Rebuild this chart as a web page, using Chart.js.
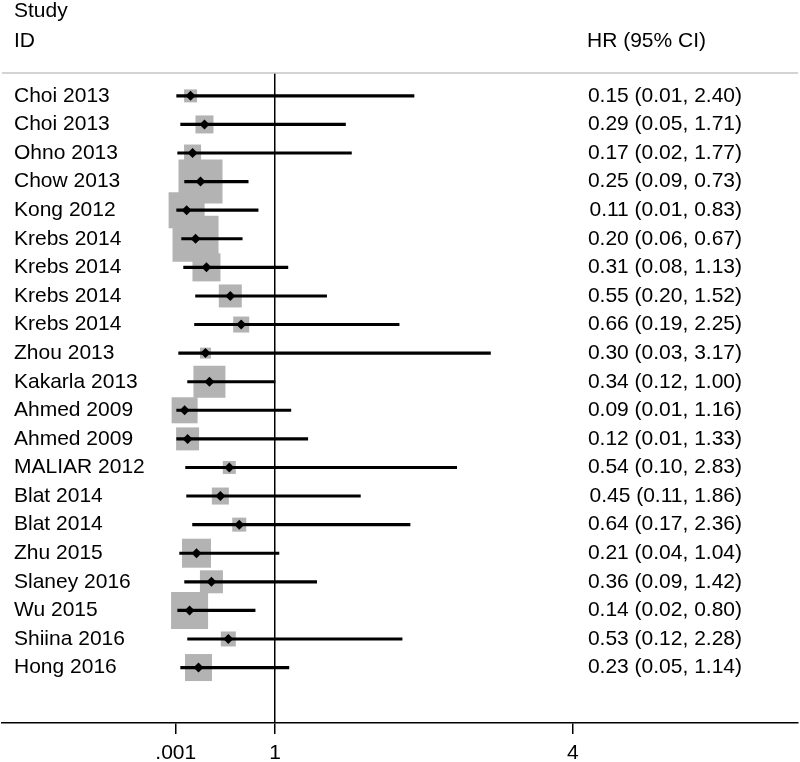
<!DOCTYPE html>
<html>
<head>
<meta charset="utf-8">
<script src="https://cdn.jsdelivr.net/npm/chart.js@4"></script>
<style>
  html, body { margin: 0; padding: 0; background: #fff; }
  #wrap { width: 800px; height: 762px; }
</style>
</head>
<body>
<div id="wrap"><canvas id="forest"></canvas></div>
<script>
// Forest plot: hazard ratios with 95% CI, box size = study weight.
const studies = ['Choi 2013', 'Choi 2013', 'Ohno 2013', 'Chow 2013', 'Kong 2012', 'Krebs 2014', 'Krebs 2014',
  'Krebs 2014', 'Krebs 2014', 'Zhou 2013', 'Kakarla 2013', 'Ahmed 2009', 'Ahmed 2009', 'MALIAR 2012',
  'Blat 2014', 'Blat 2014', 'Zhu 2015', 'Slaney 2016', 'Wu 2015', 'Shiina 2016', 'Hong 2016'];
const hr = [0.15, 0.29, 0.17, 0.25, 0.11, 0.20, 0.31, 0.55, 0.66, 0.30, 0.34, 0.09, 0.12, 0.54, 0.45, 0.64, 0.21, 0.36, 0.14, 0.53, 0.23];
const lower = [0.01, 0.05, 0.02, 0.09, 0.01, 0.06, 0.08, 0.20, 0.19, 0.03, 0.12, 0.01, 0.01, 0.10, 0.11, 0.17, 0.04, 0.09, 0.02, 0.12, 0.05];
const upper = [2.40, 1.71, 1.77, 0.73, 0.83, 0.67, 1.13, 1.52, 2.25, 3.17, 1.00, 1.16, 1.33, 2.83, 1.86, 2.36, 1.04, 1.42, 0.80, 2.28, 1.14];
// approximate % weights
const weights = [1.17, 2.25, 2.01, 13.45, 9.00, 14.70, 5.45, 3.67, 1.78, 0.84, 7.11, 4.70, 3.67, 1.17, 2.01, 1.36, 5.84, 3.67, 9.51, 1.56, 5.06];
const xTicks = [0.001, 1, 4];

const FONT = '"Liberation Sans", Arial, Helvetica, sans-serif';
const TEXT = '#000';
const BOX = '#b3b3b3';

const rows = studies.map((_, i) => i);
const ciLabels = hr.map((v, i) => `${v.toFixed(2)} (${lower[i].toFixed(2)}, ${upper[i].toFixed(2)})`);

const headerPlugin = {
  id: 'header',
  afterDraw(chart) {
    const { ctx, chartArea } = chart;
    ctx.save();
    ctx.strokeStyle = '#c4c4c4';
    ctx.lineWidth = 1.5;
    ctx.beginPath();
    ctx.moveTo(chartArea.left, chartArea.top);
    ctx.lineTo(chartArea.right, chartArea.top);
    ctx.stroke();
    ctx.fillStyle = TEXT;
    ctx.font = `21px ${FONT}`;
    ctx.textBaseline = 'alphabetic';
    ctx.fillText('Study', 14, 17);
    ctx.fillText('ID', 14, 47);
    ctx.fillText('HR (95% CI)', 587, 47);
    ctx.restore();
  },
};

// mirrored row-label axis; right side uses a negative padding to sit inside the plot
const rowScale = (labels, position, padding) => ({
  type: 'linear', position, reverse: true, offset: false, min: -0.8, max: 21.94,
  afterBuildTicks: s => { s.ticks = rows.map(v => ({ value: v })); },
  afterFit: s => { s.width = 0; },
  grid: { display: false, offset: false }, border: { display: false },
  ticks: { mirror: true, padding, autoSkip: false, color: TEXT, font: { size: 21, family: FONT }, callback: v => labels[v] },
});

new Chart(document.getElementById('forest'), {
  type: 'bar',
  data: {
    datasets: [
      {
        type: 'scatter', label: 'Weight', order: 3,
        data: rows.map(i => ({ x: hr[i], y: i })),
        pointStyle: 'rect', backgroundColor: BOX, borderWidth: 0,
        pointRadius: c => 12 * Math.sqrt(weights[c.dataIndex]) / Math.SQRT2,
      },
      {
        type: 'bar', label: '95% CI', order: 2, indexAxis: 'y',
        data: rows.map(i => ({ x: [lower[i], upper[i]], y: i })),
        backgroundColor: '#000', barThickness: 2.5,
      },
      {
        type: 'scatter', label: 'HR', order: 1,
        data: rows.map(i => ({ x: hr[i], y: i })),
        pointStyle: 'rectRot', pointRadius: 5, backgroundColor: '#000', borderWidth: 0,
      },
    ],
  },
  options: {
    indexAxis: 'y', responsive: true, maintainAspectRatio: false, animation: false, events: [],
    layout: { autoPadding: false, padding: { top: 73, left: 2, right: 2, bottom: 0 } },
    plugins: { legend: { display: false }, tooltip: { enabled: false } },
    scales: {
      x: {
        type: 'linear', min: -1.749, max: 6.267,
        afterBuildTicks: s => { s.ticks = xTicks.map(v => ({ value: v })); },
        afterFit: s => { s.height = 39; },
        grid: {
          color: c => (c.tick && c.tick.value === 1 ? '#000' : 'rgba(0,0,0,0)'),
          lineWidth: 1.5, tickColor: '#000', tickWidth: 1.5, tickLength: 11,
        },
        border: { color: '#000', width: 1.5 },
        ticks: { color: TEXT, padding: 7, autoSkip: false, maxRotation: 0, font: { size: 21, family: FONT }, callback: v => (v === 0.001 ? '.001' : String(v)) },
      },
      y: rowScale(studies, 'left', 12),
      y2: rowScale(ciLabels, 'right', -56),
    },
  },
  plugins: [headerPlugin],
});
</script>
</body>
</html>
